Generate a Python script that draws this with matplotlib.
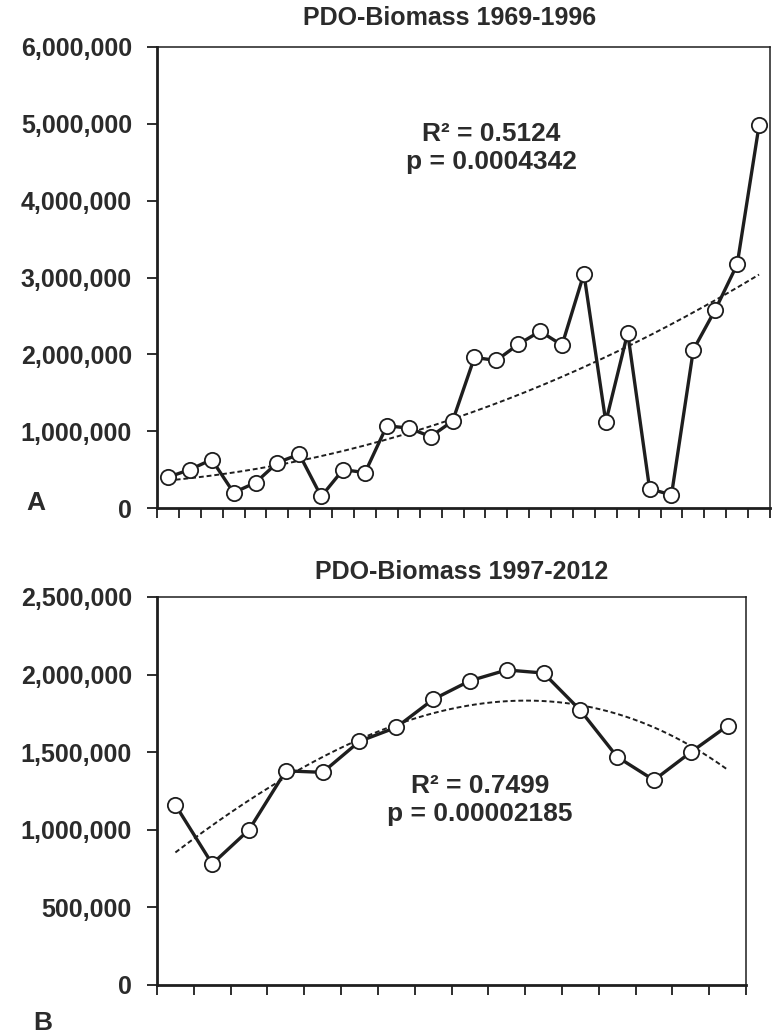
import numpy as np
import matplotlib
matplotlib.use("Agg")
import matplotlib.pyplot as plt
from matplotlib.ticker import FuncFormatter

plt.rcParams['font.family'] = ['Liberation Sans', 'DejaVu Sans']

years_a = list(range(1969, 1997))
biomass_a = [400000, 500000, 630000, 200000, 330000, 590000, 700000, 150000,
             500000, 460000, 1070000, 1040000, 930000, 1130000, 1960000, 1920000,
             2130000, 2300000, 2120000, 3050000, 1120000, 2280000, 250000, 170000,
             2060000, 2580000, 3170000, 4980000]
title_a = "PDO-Biomass 1969-1996"
stats_a = "R² = 0.5124\np = 0.0004342"

years_b = list(range(1997, 2013))
biomass_b = [1160000, 780000, 1000000, 1380000, 1370000, 1570000, 1660000, 1840000,
             1960000, 2030000, 2010000, 1770000, 1470000, 1320000, 1500000, 1670000]
title_b = "PDO-Biomass 1997-2012"
stats_b = "R² = 0.7499\np = 0.00002185"

TXT = '#2b2b2b'
LN = '#1e1e1e'

fig = plt.figure(figsize=(7.72, 10.36), dpi=100)
W, H = 772, 1036

def fax(l, t, r, b):
    return fig.add_axes([l / W, 1 - b / H, (r - l) / W, (b - t) / H])

ax1 = fax(157, 47, 770, 508)
ax2 = fax(157, 597, 746, 985)

fmt = FuncFormatter(lambda v, p: f"{int(v):,}")

def style(ax, n, ymax, step):
    ax.set_xlim(-0.5, n - 0.5)
    ax.set_ylim(0, ymax)
    ax.set_yticks(np.arange(0, ymax + 1, step))
    ax.yaxis.set_major_formatter(fmt)
    ax.set_xticks(np.arange(-0.5, n, 1.0))
    ax.set_xticklabels([])
    ax.tick_params(axis='x', direction='out', length=7, width=1.3, color=LN)
    ax.tick_params(axis='y', direction='out', length=7, width=1.3, color=LN,
                   labelsize=18, labelcolor=TXT, pad=11)
    for lab in ax.get_yticklabels():
        lab.set_fontweight('bold')
    for s in ax.spines.values():
        s.set_color(LN)
        s.set_linewidth(1.1)
    ax.spines['left'].set_linewidth(2.0)
    ax.spines['bottom'].set_linewidth(2.0)

# Panel A: quadratic trend
x_a = np.arange(len(biomass_a))
style(ax1, len(biomass_a), 6000000, 1000000)
coef = np.polyfit(x_a, biomass_a, 2)
xf = np.linspace(0, len(biomass_a) - 1, 200)
ax1.plot(xf, np.polyval(coef, xf), color=LN, lw=1.4, ls=(0, (2.5, 1.5)), zorder=2)
ax1.plot(x_a, biomass_a, color=LN, lw=2.4, marker='o', ms=11, mfc='white',
         mec=LN, mew=1.3, zorder=3)
fig.text(491 / W, 1 - 148 / H, stats_a, ha='center', va='center',
         fontsize=19, fontweight='bold', color=TXT, linespacing=1.2)
fig.text(450 / W, 1 - 18 / H, title_a, ha='center', va='center', fontsize=18,
         fontweight='bold', color=TXT)
fig.text(36 / W, 1 - 503 / H, "A", ha='center', va='center', fontsize=19,
         fontweight='bold', color=TXT)

# Panel B: cubic polynomial trend
x_b = np.arange(len(biomass_b))
style(ax2, len(biomass_b), 2500000, 500000)
coef_b = np.polyfit(x_b, biomass_b, 3)
xf_b = np.linspace(0, len(biomass_b) - 1, 200)
ax2.plot(xf_b, np.polyval(coef_b, xf_b), color=LN, lw=1.4, ls=(0, (2.5, 1.5)), zorder=2)
ax2.plot(x_b, biomass_b, color=LN, lw=2.4, marker='o', ms=11, mfc='white',
         mec=LN, mew=1.3, zorder=3)
fig.text(480 / W, 1 - 800 / H, stats_b, ha='center', va='center',
         fontsize=19, fontweight='bold', color=TXT, linespacing=1.2)
fig.text(462 / W, 1 - 572 / H, title_b, ha='center', va='center', fontsize=18,
         fontweight='bold', color=TXT)
fig.text(43 / W, 1 - 1023 / H, "B", ha='center', va='center', fontsize=19,
         fontweight='bold', color=TXT)

fig.savefig("out.png", dpi=100, facecolor='white')
